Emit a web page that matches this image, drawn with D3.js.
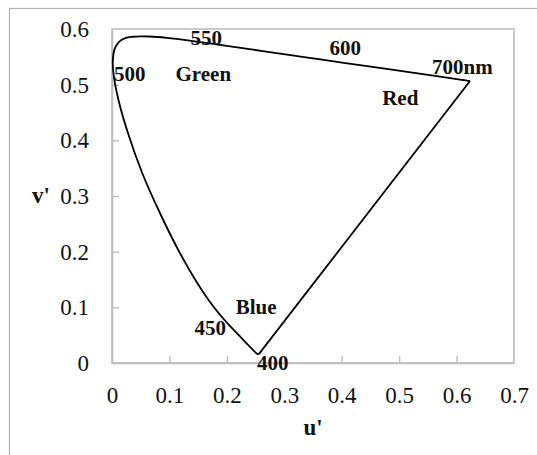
<!DOCTYPE html>
<html>
<head>
<meta charset="utf-8">
<script src="https://cdn.jsdelivr.net/npm/d3@7"></script>
<style>
  html, body { margin: 0; padding: 0; background: #fff; }
  svg { display: block; }
  text { font-family: "Liberation Serif", "Times New Roman", serif; fill: #111; }
</style>
</head>
<body>
<svg id="chart" width="537" height="455"></svg>
<script>
// CIE 1976 u'v' spectral locus, 400–700 nm
const wavelengths = [400, 405, 410, 415, 420, 425, 430, 435, 440, 445, 450, 455, 460, 465, 470, 475, 480, 485, 490, 495,
  500, 505, 510, 515, 520, 525, 530, 535, 540, 545, 550, 555, 560, 565, 570, 580, 590, 600, 610, 620, 630, 640, 650, 660, 680, 700];
const uPrime = [0.2557, 0.2552, 0.2545, 0.2537, 0.2522, 0.2496, 0.2461, 0.2411, 0.2347, 0.2266, 0.2161, 0.2033, 0.1877, 0.1690, 0.1441, 0.1147, 0.0828, 0.0521, 0.0282, 0.0119,
  0.0035, 0.0014, 0.0046, 0.0123, 0.0231, 0.0360, 0.0501, 0.0643, 0.0792, 0.0953, 0.1127, 0.1319, 0.1531, 0.1766, 0.2026, 0.2623, 0.3315, 0.4035, 0.4692, 0.5203, 0.5565, 0.5830, 0.6005, 0.6109, 0.6199, 0.6234];
const vPrime = [0.0159, 0.0159, 0.0159, 0.0159, 0.0169, 0.0191, 0.0226, 0.0279, 0.0350, 0.0437, 0.0549, 0.0688, 0.0871, 0.1119, 0.1510, 0.2044, 0.2708, 0.3427, 0.4117, 0.4698,
  0.5131, 0.5432, 0.5638, 0.5770, 0.5837, 0.5861, 0.5868, 0.5865, 0.5856, 0.5841, 0.5821, 0.5796, 0.5766, 0.5732, 0.5694, 0.5604, 0.5501, 0.5393, 0.5296, 0.5219, 0.5165, 0.5125, 0.5099, 0.5084, 0.5070, 0.5065];

const xTicks = [0, 0.1, 0.2, 0.3, 0.4, 0.5, 0.6, 0.7];
const yTicks = [0, 0.1, 0.2, 0.3, 0.4, 0.5, 0.6];

// Annotations placed in chart coordinates
const annotText = ["550", "600", "700nm", "500", "Green", "Red", "Blue", "450", "400"];
const annotU = [0.164, 0.406, 0.610, 0.031, 0.159, 0.502, 0.251, 0.171, 0.280];
const annotV = [0.571, 0.553, 0.519, 0.507, 0.507, 0.463, 0.088, 0.050, -0.0125];

const svg = d3.select("#chart");
const margin = { left: 112, top: 29, right: 514, bottom: 363 };

const x = d3.scaleLinear().domain([0, 0.7]).range([margin.left, margin.right]);
const y = d3.scaleLinear().domain([0, 0.6]).range([margin.bottom, margin.top]);

// outer chart frame
svg.append("rect")
  .attr("x", 9.5).attr("y", 8.5)
  .attr("width", 700).attr("height", 700)
  .attr("fill", "none").attr("stroke", "#b3b3b3").attr("stroke-width", 1.2);

// plot area frame
svg.append("rect")
  .attr("x", x(0)).attr("y", y(0.6))
  .attr("width", x(0.7) - x(0)).attr("height", y(0) - y(0.6))
  .attr("fill", "none").attr("stroke", "#bdbdbd").attr("stroke-width", 1.6);

const xAxis = svg.append("g")
  .attr("transform", `translate(0,${y(0)})`)
  .call(d3.axisBottom(x).tickValues(xTicks).tickFormat(d3.format("")).tickSizeInner(-7).tickSizeOuter(0).tickPadding(24));
const yAxis = svg.append("g")
  .attr("transform", `translate(${x(0)},0)`)
  .call(d3.axisLeft(y).tickValues(yTicks).tickFormat(d3.format("")).tickSizeInner(-7).tickSizeOuter(0).tickPadding(23));

[xAxis, yAxis].forEach(g => {
  g.select(".domain").attr("stroke", "#bdbdbd").attr("stroke-width", 1.6);
  g.selectAll(".tick line").attr("stroke", "#bdbdbd").attr("stroke-width", 1.4);
  g.selectAll(".tick text")
    .attr("font-family", "'Liberation Serif', 'Times New Roman', serif")
    .attr("font-size", 23).attr("fill", "#111");
});
xAxis.selectAll(".tick").filter(d => d === 0 || d === 0.7).select("line").remove();
yAxis.selectAll(".tick").filter(d => d === 0 || d === 0.6).select("line").remove();

// axis titles
svg.append("text").attr("x", x(0.35)).attr("y", 435)
  .attr("text-anchor", "middle").attr("font-size", 23).attr("font-weight", "bold").text("u'");
svg.append("text").attr("x", 41).attr("y", y(0.3)).attr("dy", "0.32em")
  .attr("text-anchor", "middle").attr("font-size", 23).attr("font-weight", "bold").text("v'");

// spectral locus
const locus = wavelengths.map((w, i) => [uPrime[i], vPrime[i]]);
svg.append("path")
  .datum(locus)
  .attr("fill", "none").attr("stroke", "#000").attr("stroke-width", 1.8)
  .attr("stroke-linejoin", "round")
  .attr("d", d3.line().x(d => x(d[0])).y(d => y(d[1])).curve(d3.curveCatmullRom));

// line of purples joining 700 nm back to 400 nm
const ends = [locus[locus.length - 1], locus[0]];
svg.append("path")
  .datum(ends)
  .attr("fill", "none").attr("stroke", "#000").attr("stroke-width", 1.8)
  .attr("d", d3.line().x(d => x(d[0])).y(d => y(d[1])));

// labels
svg.append("g").selectAll("text")
  .data(annotText)
  .join("text")
  .attr("x", (d, i) => x(annotU[i]))
  .attr("y", (d, i) => y(annotV[i]))
  .attr("text-anchor", "middle")
  .attr("font-size", 21).attr("font-weight", "bold")
  .text(d => d);
</script>
</body>
</html>
